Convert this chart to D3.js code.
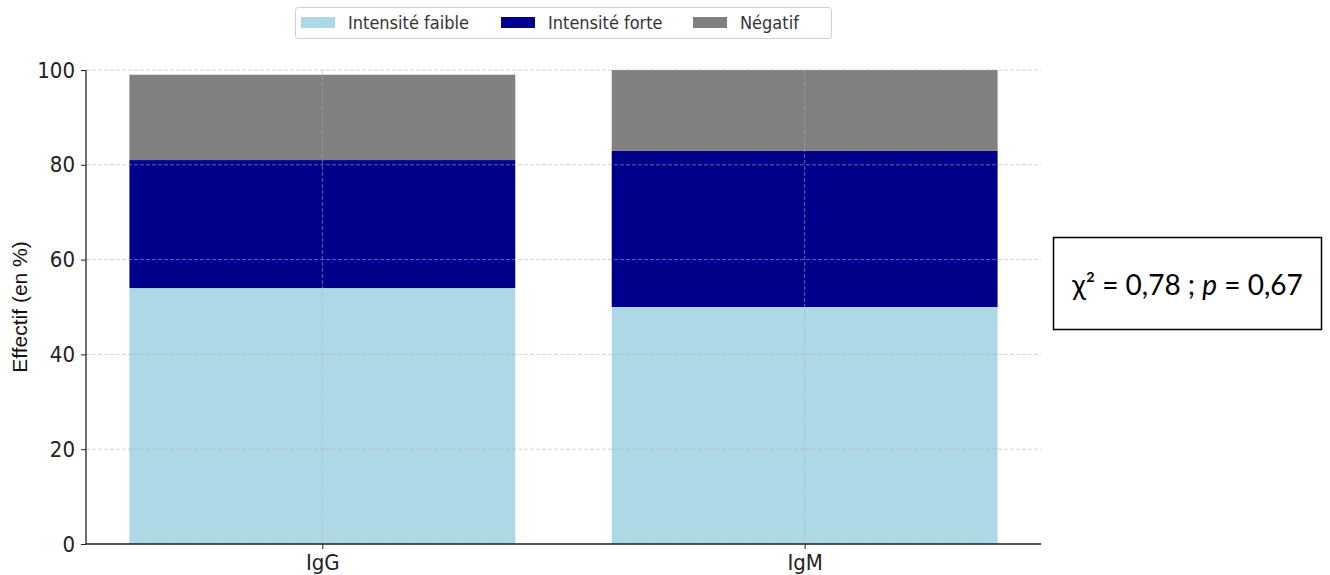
<!DOCTYPE html>
<html><head><meta charset="utf-8">
<script src="https://cdn.jsdelivr.net/npm/d3@7"></script>
<style>body{margin:0;background:#fff}svg{display:block}
.cf{font-family:"DejaVu Sans Condensed","DejaVu Sans",sans-serif;font-stretch:condensed}</style>
</head><body>
<svg id="c" width="1330" height="575"></svg>
<script>
const categories = ["IgG", "IgM"];
const seriesNames = ["Intensité faible", "Intensité forte", "Négatif"];
const faible = [54, 50];
const forte = [27, 33];
const negatif = [18, 17];
const yTicks = [0, 20, 40, 60, 80, 100];
const colors = ["#add8e6", "#00008b", "#808080"];
const annotation = {chi: "0,78", p: "0,67"};

const svg = d3.select("#c");
const L = 86, R = 1041, T = 70, B = 544;
const x = d3.scaleLinear().domain([-0.49, 1.49]).range([L, R]);
const y = d3.scaleLinear().domain([0, 100]).range([B, T]);
const barW = x(0.8) - x(0);

const rows = categories.map((c, i) => ({cat: c, i, faible: faible[i], forte: forte[i], negatif: negatif[i]}));
const stack = d3.stack().keys(["faible", "forte", "negatif"])(rows);

const g = svg.append("g");
stack.forEach((layer, k) => {
  g.selectAll(null).data(layer).enter().append("rect")
    .attr("x", d => x(d.data.i) - barW / 2)
    .attr("width", barW)
    .attr("y", d => y(d[1]))
    .attr("height", d => y(d[0]) - y(d[1]))
    .attr("fill", colors[k]);
});

// grid (drawn above bars)
const grid = svg.append("g").attr("stroke", "#b0b0b0").attr("stroke-opacity", 0.7)
  .attr("stroke-dasharray", "4,2").attr("stroke-width", 0.8);
grid.selectAll(null).data(yTicks).enter().append("line")
  .attr("x1", L).attr("x2", R).attr("y1", d => y(d)).attr("y2", d => y(d));
grid.selectAll(null).data(categories).enter().append("line")
  .attr("x1", (d, i) => x(i)).attr("x2", (d, i) => x(i)).attr("y1", T).attr("y2", B);

// axes
const yAxis = svg.append("g").attr("transform", `translate(${L},0)`)
  .call(d3.axisLeft(y).tickValues(yTicks).tickSize(5).tickPadding(6));
yAxis.select(".domain").attr("stroke", "#222").attr("stroke-width", 1.3).attr("d", `M-0,${T}V${B}`);
yAxis.selectAll("text").attr("class", "cf").attr("font-size", 22).attr("fill", "#222");
yAxis.selectAll(".tick line").attr("stroke", "#222");

const xAxis = svg.append("g").attr("transform", `translate(0,${B})`)
  .call(d3.axisBottom(d3.scaleOrdinal().domain(categories).range(categories.map((c, i) => x(i)))).tickSize(5).tickPadding(5));
xAxis.select(".domain").attr("stroke", "#222").attr("stroke-width", 1.3).attr("d", `M${L},0H${R}`);
xAxis.selectAll("text").attr("class", "cf").attr("font-size", 22).attr("fill", "#222");
xAxis.selectAll(".tick line").attr("stroke", "#222");
svg.selectAll("g").attr("font-family", null);

svg.append("text").attr("transform", `translate(27,${(T + B) / 2}) rotate(-90)`)
  .attr("text-anchor", "middle").attr("font-family", "Liberation Sans").attr("font-size", 21)
  .attr("fill", "#111").text("Effectif (en %)");

// legend
const lg = svg.append("g");
lg.append("rect").attr("x", 295.5).attr("y", 7.5).attr("width", 536).attr("height", 31).attr("rx", 3)
  .attr("fill", "#fff").attr("stroke", "#d0d0d0");
const legX = [301, 501, 693];
seriesNames.forEach((s, k) => {
  lg.append("rect").attr("x", legX[k]).attr("y", 17).attr("width", 34).attr("height", 11).attr("fill", colors[k]);
  lg.append("text").attr("class", "cf").attr("x", legX[k] + 47).attr("y", 29)
    .attr("font-size", 18).attr("fill", "#333").text(s);
});

// annotation box
const ab = svg.append("g");
ab.append("rect").attr("x", 1053.5).attr("y", 237.5).attr("width", 268).attr("height", 92)
  .attr("fill", "#fff").attr("stroke", "#000").attr("stroke-width", 1.5);
const t = ab.append("text").attr("x", 1187.5).attr("y", 295).attr("text-anchor", "middle")
  .attr("font-family", "Lato, 'Open Sans', sans-serif").attr("font-size", 28).attr("fill", "#000");
t.append("tspan").text("χ² = " + annotation.chi + " ; ");
t.append("tspan").attr("font-style", "italic").text("p");
t.append("tspan").text(" = " + annotation.p);
</script>
</body></html>
